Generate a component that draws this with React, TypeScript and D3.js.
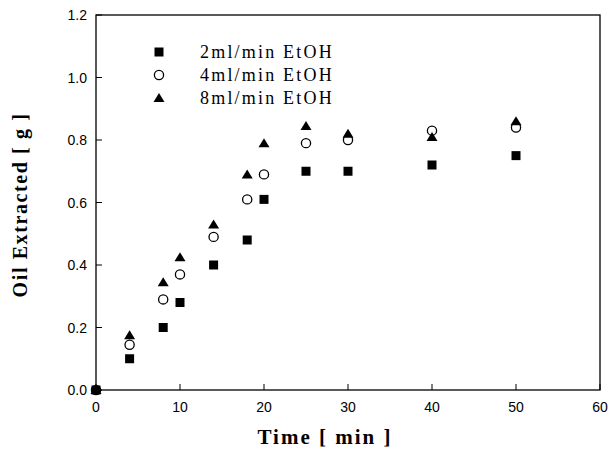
import React from "react";
import * as d3 from "d3";

const times = [0, 4, 8, 10, 14, 18, 20, 25, 30, 40, 50];
const eth2 = [0, 0.10, 0.20, 0.28, 0.40, 0.48, 0.61, 0.70, 0.70, 0.72, 0.75];
const eth4 = [0, 0.145, 0.29, 0.37, 0.49, 0.61, 0.69, 0.79, 0.80, 0.83, 0.84];
const eth8 = [0, 0.175, 0.345, 0.425, 0.53, 0.69, 0.79, 0.845, 0.82, 0.81, 0.86];
const xTicks = [0, 10, 20, 30, 40, 50, 60];
const yTicks = [0, 0.2, 0.4, 0.6, 0.8, 1.0, 1.2];
const legendLabels = ["2ml/min EtOH", "4ml/min EtOH", "8ml/min EtOH"];

const W = 608, H = 454;
const L = 96, R = 600, T = 15, B = 390;

export default function App() {
  const x = d3.scaleLinear().domain([0, 60]).range([L, R]);
  const y = d3.scaleLinear().domain([0, 1.2]).range([B, T]);
  const tri = (cx: number, cy: number) => `M${cx},${cy - 5} L${cx + 5.5},${cy + 4} L${cx - 5.5},${cy + 4} Z`;
  const sq = (cx: number, cy: number, k: string | number) => (
    <rect key={k} x={cx - 4.5} y={cy - 4.5} width={9} height={9} fill="#000" />
  );
  const circ = (cx: number, cy: number, k: string | number) => (
    <circle key={k} cx={cx} cy={cy} r={4.6} fill="none" stroke="#000" strokeWidth={1.3} />
  );
  const trim = (cx: number, cy: number, k: string | number) => <path key={k} d={tri(cx, cy)} fill="#000" />;
  const tickFont = "'Liberation Sans', Arial, sans-serif";
  const serif = "'Liberation Serif', 'Times New Roman', serif";
  const legendY = [52, 75, 98];
  return (
    <svg width={W} height={H} style={{ position: "absolute", left: 0, top: 0, background: "#fff" }}>
      <rect x={L} y={T} width={R - L} height={B - T} fill="none" stroke="#000" strokeWidth={1.3} />
      {xTicks.map((t) => (
        <g key={"x" + t}>
          <line x1={x(t)} x2={x(t)} y1={B} y2={B - 6} stroke="#000" strokeWidth={1} />
          <text x={x(t)} y={412} textAnchor="middle" fontFamily={tickFont} fontSize={14}>{t}</text>
        </g>
      ))}
      {yTicks.map((t) => (
        <g key={"y" + t}>
          <line x1={L} x2={L + 6} y1={y(t)} y2={y(t)} stroke="#000" strokeWidth={1} />
          <text x={87} y={y(t) + 5} textAnchor="end" fontFamily={tickFont} fontSize={14}>{t.toFixed(1)}</text>
        </g>
      ))}
      {times.map((t, i) => circ(x(t), y(eth4[i]), "c" + i))}
      {times.map((t, i) => trim(x(t), y(eth8[i]), "t" + i))}
      {times.map((t, i) => sq(x(t), y(eth2[i]), "s" + i))}
      {sq(159, legendY[0], "ls")}
      {circ(159, legendY[1], "lc")}
      {trim(159, legendY[2], "lt")}
      {legendLabels.map((l, i) => (
        <text key={l} x={200} y={legendY[i] + 6} fontFamily={serif} fontSize={18} letterSpacing={2.2}>{l}</text>
      ))}
      <text x={325} y={444} textAnchor="middle" fontFamily={serif} fontWeight="bold" fontSize={21} letterSpacing={2}>Time [ min ]</text>
      <text transform="translate(27,205) rotate(-90)" textAnchor="middle" fontFamily={serif} fontWeight="bold" fontSize={20} letterSpacing={1.6}>Oil Extracted [ g ]</text>
    </svg>
  );
}
